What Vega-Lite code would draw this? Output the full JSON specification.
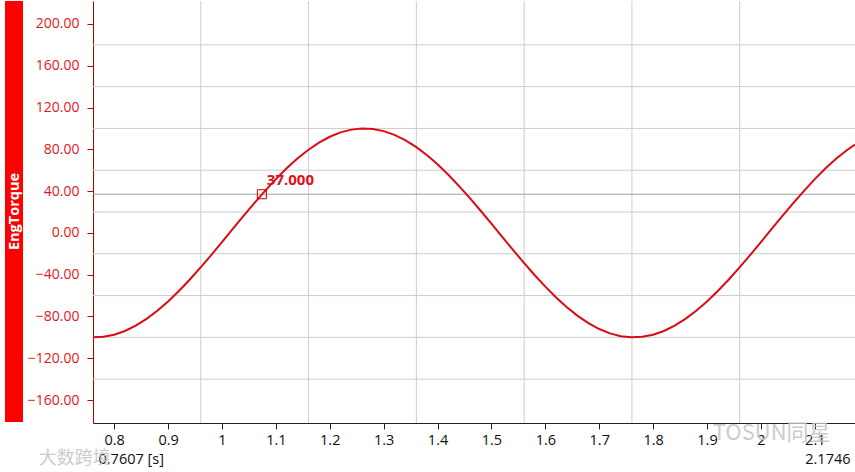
{
  "$schema": "https://vega.github.io/schema/vega-lite/v6.json",
  "padding": {"left": 5, "top": 0, "right": 0, "bottom": 0},
  "background": "white",
  "spacing": 70,
  "bounds": "flush",
  "config": {"view": {"stroke": null}, "font": "Open Sans"},
  "datasets": {
    "series": [
      {"t": 0.7607, "v": -99.99}, {"t": 0.78, "v": -99.50}, {"t": 0.80, "v": -97.45}, {"t": 0.82, "v": -93.88},
      {"t": 0.84, "v": -88.82}, {"t": 0.86, "v": -82.34}, {"t": 0.88, "v": -74.57}, {"t": 0.90, "v": -65.66},
      {"t": 0.92, "v": -55.69}, {"t": 0.94, "v": -44.84}, {"t": 0.96, "v": -33.28}, {"t": 0.98, "v": -21.20},
      {"t": 1.00, "v": -8.79}, {"t": 1.02, "v": 3.77}, {"t": 1.04, "v": 16.26}, {"t": 1.06, "v": 28.50},
      {"t": 1.08, "v": 40.29}, {"t": 1.10, "v": 51.44}, {"t": 1.12, "v": 61.80}, {"t": 1.14, "v": 71.15},
      {"t": 1.16, "v": 79.40}, {"t": 1.18, "v": 86.40}, {"t": 1.20, "v": 92.03}, {"t": 1.22, "v": 96.21},
      {"t": 1.24, "v": 98.87}, {"t": 1.26, "v": 99.97}, {"t": 1.28, "v": 99.50}, {"t": 1.30, "v": 97.45},
      {"t": 1.32, "v": 93.88}, {"t": 1.34, "v": 88.82}, {"t": 1.36, "v": 82.34}, {"t": 1.38, "v": 74.57},
      {"t": 1.40, "v": 65.66}, {"t": 1.42, "v": 55.69}, {"t": 1.44, "v": 44.84}, {"t": 1.46, "v": 33.28},
      {"t": 1.48, "v": 21.20}, {"t": 1.50, "v": 8.79}, {"t": 1.52, "v": -3.77}, {"t": 1.54, "v": -16.26},
      {"t": 1.56, "v": -28.50}, {"t": 1.58, "v": -40.29}, {"t": 1.60, "v": -51.44}, {"t": 1.62, "v": -61.80},
      {"t": 1.64, "v": -71.15}, {"t": 1.66, "v": -79.40}, {"t": 1.68, "v": -86.40}, {"t": 1.70, "v": -92.03},
      {"t": 1.72, "v": -96.21}, {"t": 1.74, "v": -98.87}, {"t": 1.76, "v": -99.97}, {"t": 1.78, "v": -99.50},
      {"t": 1.80, "v": -97.45}, {"t": 1.82, "v": -93.88}, {"t": 1.84, "v": -88.82}, {"t": 1.86, "v": -82.34},
      {"t": 1.88, "v": -74.57}, {"t": 1.90, "v": -65.66}, {"t": 1.92, "v": -55.69}, {"t": 1.94, "v": -44.84},
      {"t": 1.96, "v": -33.28}, {"t": 1.98, "v": -21.20}, {"t": 2.00, "v": -8.79}, {"t": 2.02, "v": 3.77},
      {"t": 2.04, "v": 16.26}, {"t": 2.06, "v": 28.50}, {"t": 2.08, "v": 40.29}, {"t": 2.10, "v": 51.44},
      {"t": 2.12, "v": 61.80}, {"t": 2.14, "v": 71.15}, {"t": 2.16, "v": 79.40}, {"t": 2.1746, "v": 84.65}
    ],
    "hgrid": [{"g": -140}, {"g": -100}, {"g": -60}, {"g": -20}, {"g": 20}, {"g": 60}, {"g": 100}, {"g": 140}, {"g": 180}],
    "vgrid": [{"g": 0.9607}, {"g": 1.1607}, {"g": 1.3607}, {"g": 1.5607}, {"g": 1.7607}, {"g": 1.9607}],
    "marker": [{"t": 1.074, "v": 37.0, "label": "37.000"}],
    "watermark": [
      {"t": 0.727, "v": -216, "label": "大数跨境", "size": 18},
      {"t": 2.02, "v": -192, "label": "TOSUN同星", "size": 22}
    ]
  },
  "hconcat": [
    {
      "width": 18,
      "height": 421,
      "view": {"fill": "#ff0000", "stroke": null},
      "data": {"values": [{"name": "EngTorque"}]},
      "mark": {"type": "text", "angle": 270, "color": "white", "fontWeight": "bold", "fontSize": 14.5, "font": "Open Sans", "dy": 1},
      "encoding": {"text": {"field": "name"}}
    },
    {
      "width": 762,
      "height": 422,
      "layer": [
        {
          "data": {"name": "hgrid"},
          "mark": {"type": "rule", "color": "#cccccc", "strokeWidth": 1},
          "encoding": {"y": {"field": "g", "type": "quantitative"}}
        },
        {
          "data": {"name": "vgrid"},
          "mark": {"type": "rule", "color": "#cccccc", "strokeWidth": 1},
          "encoding": {"x": {"field": "g", "type": "quantitative"}}
        },
        {
          "data": {"name": "marker"},
          "mark": {"type": "rule", "color": "#a0a0a0", "strokeWidth": 1},
          "encoding": {"y": {"field": "v", "type": "quantitative"}}
        },
        {
          "data": {"name": "series"},
          "mark": {"type": "line", "color": "#dc0a14", "strokeWidth": 2, "clip": true},
          "encoding": {
            "x": {
              "field": "t", "type": "quantitative",
              "scale": {"domain": [0.7607, 2.1746], "nice": false, "zero": false},
              "axis": {
                "title": null,
                "values": [0.7607, 0.8, 0.9, 1.0, 1.1, 1.2, 1.3, 1.4, 1.5, 1.6, 1.7, 1.8, 1.9, 2.0, 2.1, 2.1746],
                "labelExpr": "datum.value < 0.79 ? '0.7607 [s]' : (datum.value > 2.17 ? '2.1746' : format(datum.value, '.2~f'))",
                "grid": false,
                "labelOverlap": false,
                "labelFlush": false,
                "labelBound": false,
                "labelFontSize": 14.5,
                "labelColor": "#111111",
                "domainColor": "#222222",
                "tickColor": "#222222",
                "tickSize": 6,
                "labelAlign": {"condition": [{"test": "datum.value < 0.79", "value": "left"}, {"test": "datum.value > 2.17", "value": "right"}], "value": "center"},
                "labelPadding": {"condition": {"test": "datum.value < 0.79 || datum.value > 2.17", "value": 23}, "value": 4},
                "labelOffset": {"condition": [{"test": "datum.value < 0.79", "value": 5}, {"test": "datum.value > 2.17", "value": -5}], "value": 0},
                "tickOpacity": {"condition": {"test": "datum.value < 0.79 || datum.value > 2.17", "value": 0}, "value": 1}
              }
            },
            "y": {
              "field": "v", "type": "quantitative",
              "scale": {"domain": [-182, 222], "nice": false, "zero": false},
              "axis": {
                "title": null,
                "values": [200, 160, 120, 80, 40, 0, -40, -80, -120, -160],
                "format": ".2f",
                "grid": false,
                "labelFontSize": 14,
                "labelColor": "#e3161c",
                "domainColor": "#b00000",
                "tickColor": "#c00000",
                "tickSize": 6,
                "labelPadding": 8
              }
            }
          }
        },
        {
          "data": {"name": "marker"},
          "mark": {"type": "point", "shape": "square", "filled": false, "size": 81, "stroke": "#c00000", "strokeWidth": 1, "opacity": 1},
          "encoding": {
            "x": {"field": "t", "type": "quantitative"},
            "y": {"field": "v", "type": "quantitative"}
          }
        },
        {
          "data": {"name": "marker"},
          "mark": {"type": "text", "align": "left", "baseline": "middle", "dx": 5, "dy": -14, "fontWeight": "bold", "fontSize": 15, "color": "#e0101a", "font": "Open Sans"},
          "encoding": {
            "x": {"field": "t", "type": "quantitative"},
            "y": {"field": "v", "type": "quantitative"},
            "text": {"field": "label"}
          }
        },
        {
          "data": {"name": "watermark"},
          "mark": {"type": "text", "align": "center", "baseline": "middle", "font": "Noto Sans CJK SC", "color": "#c4c4c4", "opacity": 0.85, "clip": false},
          "encoding": {
            "x": {"field": "t", "type": "quantitative"},
            "y": {"field": "v", "type": "quantitative"},
            "text": {"field": "label"},
            "size": {"field": "size", "type": "quantitative", "scale": null}
          }
        }
      ]
    }
  ]
}
